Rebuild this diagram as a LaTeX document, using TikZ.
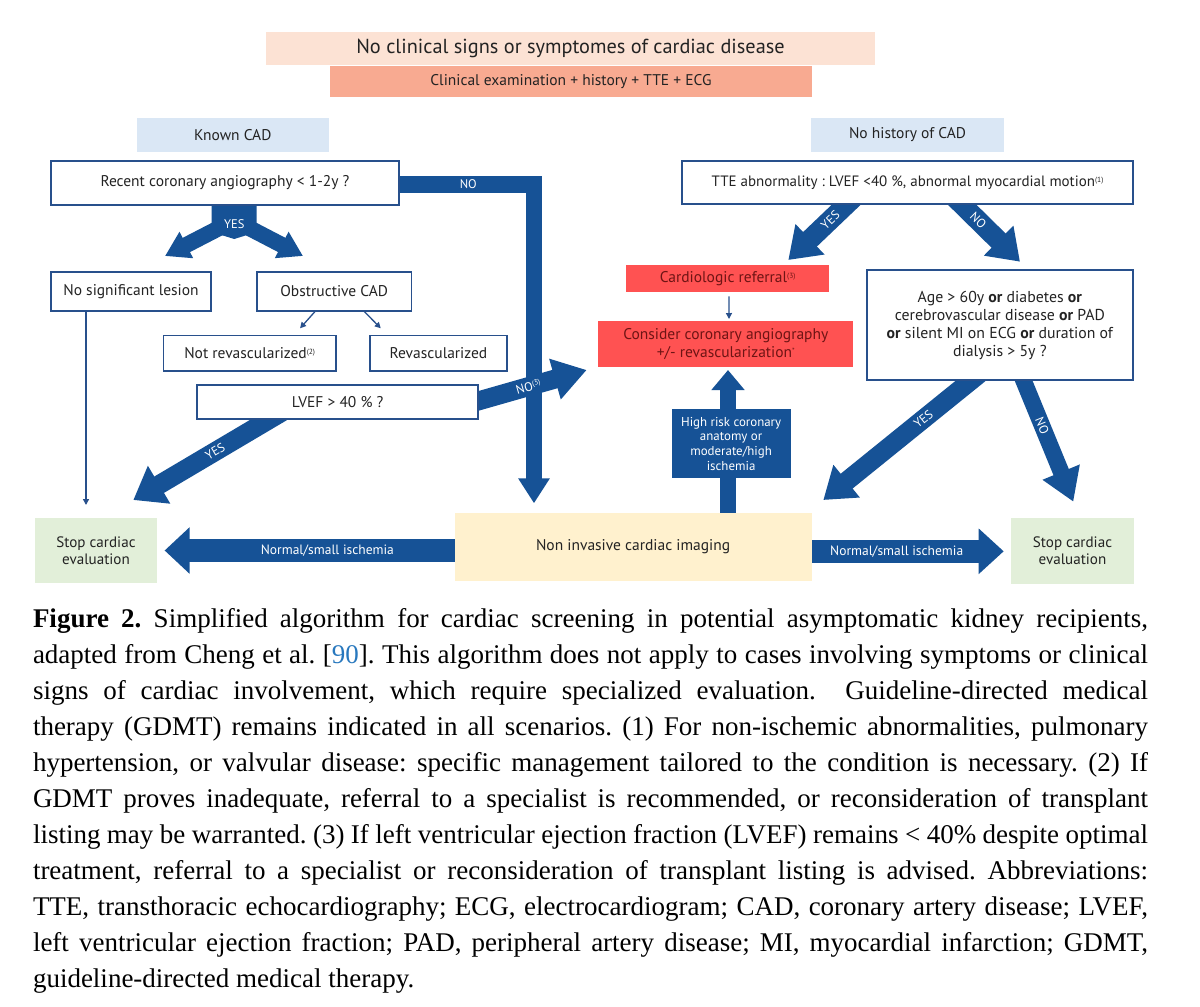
\documentclass[tikz,border=0pt]{standalone}
\usepackage{fontspec}
\setmainfont{Liberation Serif}
\newfontfamily\dgfont{PT Sans}
\usetikzlibrary{arrows.meta,calc}
\definecolor{arrowblue}{RGB}{22,82,150}
\definecolor{bdr}{RGB}{40,80,140}
\definecolor{txt}{RGB}{35,35,35}
\definecolor{peach}{RGB}{252,226,212}
\definecolor{salmon}{RGB}{248,170,145}
\definecolor{lblue}{RGB}{218,231,245}
\definecolor{redbox}{RGB}{255,82,82}
\definecolor{redtxt}{RGB}{110,20,20}
\definecolor{ylw}{RGB}{255,241,206}
\definecolor{grn}{RGB}{226,239,217}
\definecolor{refblue}{RGB}{40,120,190}
\pgfdeclarelayer{bg}
\pgfsetlayers{bg,main}
\frenchspacing
\newcommand{\sups}[1]{\raisebox{0.55ex}{\fontsize{7.5}{7.5}\selectfont(#1)}}
\newcommand{\capline}[1]{\makebox[1115pt][s]{#1}}
\tikzset{
  every node/.style={inner sep=0pt, outer sep=0pt},
  dgf/.style={font=\dgfont\fontsize{15.5}{18}\selectfont},
  wbox/.style={dgf, draw=bdr, line width=1.7pt, fill=white, text=txt, align=center},
  fbox/.style={dgf, text=txt, align=center},
  fatar/.style n args={3}{line width=#1, draw=arrowblue, line join=miter, -{Triangle[width=#2,length=#3]}},
  thinar/.style={draw=bdr, line width=1.3pt, -{Triangle[width=6pt,length=6pt]}},
  lbl/.style={text=white, font=\dgfont\fontsize{12.5}{14}\selectfont},
}
\begin{document}
\begin{tikzpicture}[x=1pt,y=-1pt]
\useasboundingbox (0,0) rectangle (1200,1007);
\begin{pgfonlayer}{bg}
\fill[white] (0,0) rectangle (1200,1007);
\end{pgfonlayer}

% ---------- boxes ----------
\node[fbox, fill=peach, minimum width=609pt, minimum height=32.5pt, font=\dgfont\fontsize{20.3}{24}\selectfont] (top) at (570.5,48.25) {No clinical signs or symptomes of cardiac disease};
\node[fbox, fill=salmon, minimum width=482pt, minimum height=30.5pt, font=\dgfont\fontsize{15.5}{17}\selectfont] (clin) at (571,81.25) {Clinical examination + history + TTE + ECG};
\node[fbox, fill=lblue, minimum width=192.4pt, minimum height=34pt] (known) at (232.8,134.7) {Known CAD};
\node[fbox, fill=lblue, minimum width=193pt, minimum height=33.7pt] (nohist) at (907.5,134.85) {No history of CAD};
\node[wbox, minimum width=348pt, minimum height=44pt] (recent) at (225,183) {Recent coronary angiography < 1-2y ?};
\node[wbox, minimum width=451pt, minimum height=43.6pt, font=\dgfont\fontsize{15}{18}\selectfont] (tte) at (907.5,182.5) {TTE abnormality : LVEF <40 \%, abnormal myocardial motion\sups{1}};
\node[wbox, minimum width=160pt, minimum height=39pt] (nosig) at (131,291.2) {No significant lesion};
\node[wbox, minimum width=154.5pt, minimum height=39pt] (obst) at (334.25,291.2) {Obstructive CAD};
\node[wbox, minimum width=172.6pt, minimum height=35.5pt] (notrev) at (249.7,353.25) {Not revascularized\sups{2}};
\node[wbox, minimum width=137pt, minimum height=35.5pt] (rev) at (438.5,353.25) {Revascularized};
\node[wbox, minimum width=281.3pt, minimum height=34.3pt] (lvef) at (337.65,402.15) {LVEF > 40 \% ?};
\node[fbox, fill=redbox, text=redtxt, minimum width=203.3pt, minimum height=27.3pt] (card) at (727.65,278.65) {Cardiologic referral\sups{3}};
\node[fbox, fill=redbox, text=redtxt, minimum width=255pt, minimum height=45.7pt] (consider) at (725.8,343.85) {Consider coronary angiography\\+/- revascularization\raisebox{0.55ex}{\fontsize{7.5}{7.5}\selectfont*}};
\node[wbox, minimum width=266.3pt, minimum height=110pt, font=\dgfont\fontsize{15.8}{18}\selectfont] (age) at (999.85,325) {Age > 60y \textbf{or} diabetes \textbf{or}\\cerebrovascular disease \textbf{or} PAD\\\textbf{or} silent MI on ECG \textbf{or} duration of\\dialysis > 5y ?};
\node[fbox, fill=arrowblue, text=white, minimum width=119pt, minimum height=69.3pt, font=\dgfont\fontsize{12.9}{14.7}\selectfont] (highrisk) at (731.1,443.65) {High risk coronary\\anatomy or\\moderate/high\\ischemia};
\node[fbox, fill=ylw, minimum width=357pt, minimum height=67.4pt] (imaging) at (633.1,547) {Non invasive cardiac imaging};
\node[fbox, fill=grn, minimum width=122pt, minimum height=65.6pt, font=\dgfont\fontsize{15.1}{17}\selectfont] (stopL) at (96,550.5) {Stop cardiac\\evaluation};
\node[fbox, fill=grn, minimum width=123pt, minimum height=66.3pt, font=\dgfont\fontsize{15.1}{17}\selectfont] (stopR) at (1072.5,550.85) {Stop cardiac\\evaluation};

% ---------- free ends ----------
\coordinate (noTip) at (534,503.3);
\coordinate (yesLTip) at (165,256);
\coordinate (yesRTip) at (303,256);
\coordinate (lvYesTip) at (133.3,500);
\coordinate (lvNoTip) at (586.7,370);
\coordinate (tteYesTip) at (788.3,260);
\coordinate (tteNoTip) at (1020,261.7);
\coordinate (ageYesTip) at (823.3,500);
\coordinate (ageNoTip) at (1073.3,501.7);
\coordinate (hrTip) at (728,370);
\coordinate (leftTip) at (164.6,550.5);
\coordinate (rightTip) at (1003.7,551.3);
\coordinate (nosigTip) at (86,505);

% ---------- fat arrows (behind boxes) ----------
\begin{pgfonlayer}{bg}
\draw[fatar={16.5pt}{30pt}{25pt}] ($(recent.center)+(165,1.5)$) -- (534,184.5) -- (noTip);
\fill[arrowblue] ($(recent.south)+(-13.3,-2)$) -- ($(recent.south)+(31.7,-2)$) -- ($(recent.south)+(31.7,27)$) -- ($(recent.south)+(9.2,34)$) -- ($(recent.south)+(-13.3,27)$) -- cycle;
\draw[fatar={16pt}{28pt}{24pt}] ($(recent.south)+(0,20)$) -- (yesLTip);
\draw[fatar={16pt}{28pt}{24pt}] ($(recent.south)+(18.4,20)$) -- (yesRTip);
\draw[fatar={19pt}{42pt}{30pt}] (282,412) -- node[lbl, sloped, pos=0.45]{YES} (lvYesTip);
\draw[fatar={19pt}{40pt}{33pt}] (470,403.3) -- node[lbl, sloped, pos=0.5]{NO\sups{3}} (lvNoTip);
\draw[fatar={20pt}{40pt}{30pt}] (853.9,197.4) -- node[lbl, sloped, pos=0.36]{YES} (tteYesTip);
\draw[fatar={20pt}{40pt}{30pt}] (954.6,197.3) -- node[lbl, sloped, pos=0.36]{NO} (tteNoTip);
\draw[fatar={19pt}{40pt}{30pt}] (979.5,373.7) -- node[lbl, sloped, pos=0.36]{YES} (ageYesTip);
\draw[fatar={16.5pt}{38pt}{32pt}] (1019.5,370.75) -- node[lbl, sloped, pos=0.42]{NO} (ageNoTip);
\draw[fatar={16pt}{32pt}{20pt}] ($(imaging.north)+(94.9,8)$) -- (hrTip);
\draw[fatar={22.5pt}{45pt}{25pt}] ($(imaging.west)+(6,3.5)$) -- node[lbl, pos=0.45, font=\dgfont\fontsize{13.5}{15}\selectfont]{Normal/small ischemia} (leftTip);
\draw[fatar={22.7pt}{44pt}{25pt}] ($(imaging.east)+(-6,4.3)$) -- node[lbl, pos=0.46, font=\dgfont\fontsize{13.5}{15}\selectfont]{Normal/small ischemia} (rightTip);
\end{pgfonlayer}

\node[lbl] (yeslbl) at (234.3,224) {YES};
\node[lbl] (nolbl) at (468.3,184.3) {NO};

% ---------- thin arrows ----------
\draw[thinar] (nosig.south -| nosigTip) -- (nosigTip);
\draw[thinar] ($(obst.south)+(-18.5,0)$) -- ($(obst.south)+(-34.2,17.6)$);
\draw[thinar] ($(obst.south)+(29.3,0)$) -- ($(obst.south)+(46.5,17.6)$);
\draw[thinar] ($(card.south)+(1.3,4)$) -- ($(consider.north)+(3.2,-2)$);

% ---------- caption ----------
\node[anchor=north west, align=left, font=\fontsize{27}{36}\selectfont] (cap) at (33,608.5) {%
\capline{\textbf{Figure 2.} Simplified algorithm for cardiac screening in potential asymptomatic kidney recipients,}\\
\capline{adapted from Cheng et al. [\textcolor{refblue}{90}]. This algorithm does not apply to cases involving symptoms or clinical}\\
\capline{signs of cardiac involvement, which require specialized evaluation. \ Guideline-directed medical}\\
\capline{therapy (GDMT) remains indicated in all scenarios. (1) For non-ischemic abnormalities, pulmonary}\\
\capline{hypertension, or valvular disease: specific management tailored to the condition is necessary. (2) If}\\
\capline{GDMT proves inadequate, referral to a specialist is recommended, or reconsideration of transplant}\\
\capline{listing may be warranted. (3) If left ventricular ejection fraction (LVEF) remains < 40\% despite optimal}\\
\capline{treatment, referral to a specialist or reconsideration of transplant listing is advised. Abbreviations:}\\
\capline{TTE, transthoracic echocardiography; ECG, electrocardiogram; CAD, coronary artery disease; LVEF,}\\
\capline{left ventricular ejection fraction; PAD, peripheral artery disease; MI, myocardial infarction; GDMT,}\\
guideline-directed medical therapy.};
\end{tikzpicture}
\end{document}
